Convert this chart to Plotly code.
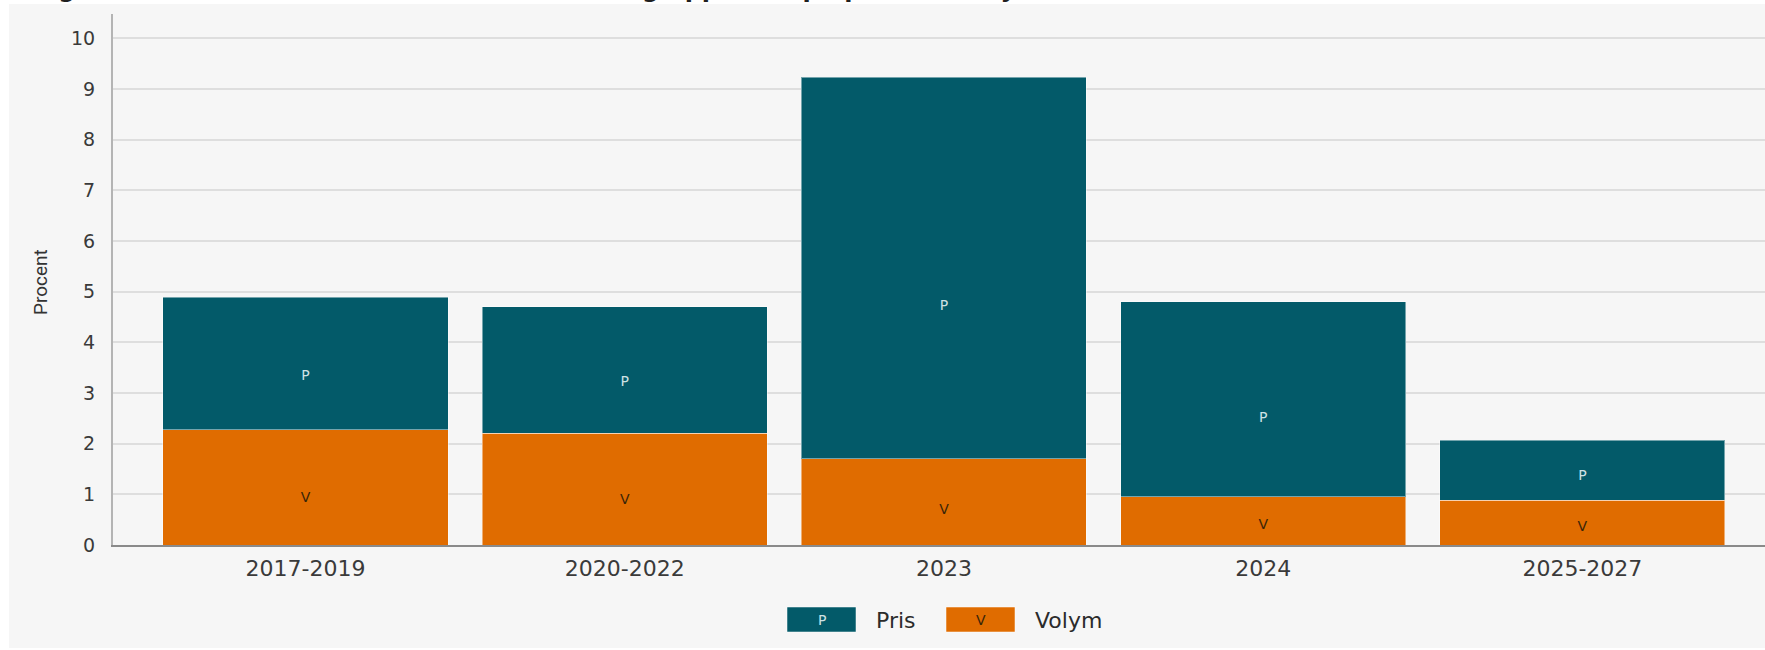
import plotly.graph_objects as go

# ---- data ----
categories = ["2017-2019", "2020-2022", "2023", "2024", "2025-2027"]
volym = [2.27, 2.21, 1.70, 0.95, 0.88]
pris = [2.62, 2.49, 7.53, 3.85, 1.19]
series_names = ["Pris", "Volym"]
series_short = ["P", "V"]
y_ticks = list(range(0, 11))

# ---- style ----
W, H = 1765, 650
L, R, T, B = 113, 0, 14, 105
TEAL = "#035a69"
ORANGE = "#e06c00"
BG = "#f6f6f6"
FONT = "DejaVu Sans"

plot_w = W - L - R
plot_h = H - T - B


def px_x(px):
    return (px - L) / plot_w


def px_y(py):
    return (H - B - py) / plot_h


fig = go.Figure()

fig.add_trace(go.Bar(
    x=categories, y=volym, name=series_names[1],
    marker=dict(color=ORANGE, line=dict(color="rgba(255,255,255,0.45)", width=1)),
    showlegend=False, hoverinfo="x+y",
))
fig.add_trace(go.Bar(
    x=categories, y=pris, name=series_names[0],
    marker=dict(color=TEAL, line=dict(color="rgba(255,255,255,0.45)", width=1)),
    showlegend=False, hoverinfo="x+y",
))

# segment labels placed 40 % up each segment
v_label_y = [0.4 * v for v in volym]
p_label_y = [v + 0.4 * p for v, p in zip(volym, pris)]
fig.add_trace(go.Scatter(
    x=categories, y=v_label_y, mode="text", text=[series_short[1]] * len(categories),
    textfont=dict(family=FONT, size=14, color="#3a2508"),
    showlegend=False, hoverinfo="skip", cliponaxis=False,
))
fig.add_trace(go.Scatter(
    x=categories, y=p_label_y, mode="text", text=[series_short[0]] * len(categories),
    textfont=dict(family=FONT, size=14, color="#cfe2e5"),
    showlegend=False, hoverinfo="skip", cliponaxis=False,
))

shapes = [
    # white page edges around the grey panel
    dict(type="rect", xref="paper", yref="paper", x0=px_x(0), x1=px_x(W), y0=px_y(0), y1=px_y(4),
         fillcolor="white", line=dict(width=0), layer="above"),
    dict(type="rect", xref="paper", yref="paper", x0=px_x(0), x1=px_x(9), y0=px_y(0), y1=px_y(H),
         fillcolor="white", line=dict(width=0), layer="above"),
    dict(type="rect", xref="paper", yref="paper", x0=px_x(0), x1=px_x(W), y0=px_y(648), y1=px_y(H),
         fillcolor="white", line=dict(width=0), layer="above"),
    # custom legend boxes
    dict(type="rect", xref="paper", yref="paper", x0=px_x(787), x1=px_x(856), y0=px_y(632), y1=px_y(607),
         fillcolor=TEAL, line=dict(color="rgba(255,255,255,0.5)", width=1)),
    dict(type="rect", xref="paper", yref="paper", x0=px_x(946), x1=px_x(1015), y0=px_y(632), y1=px_y(607),
         fillcolor=ORANGE, line=dict(color="rgba(255,255,255,0.5)", width=1)),
]

annotations = [
    dict(text="Procent", textangle=-90, xref="paper", yref="paper", x=px_x(41), y=px_y(282),
         xanchor="center", yanchor="middle", showarrow=False,
         font=dict(family="Liberation Sans Narrow, Roboto, sans-serif", size=19, color="#333")),
    dict(text="P", xref="paper", yref="paper", x=px_x(821.5), y=px_y(619.5), showarrow=False,
         xanchor="center", yanchor="middle", font=dict(family=FONT, size=14, color="#cfe2e5")),
    dict(text="V", xref="paper", yref="paper", x=px_x(980.5), y=px_y(619.5), showarrow=False,
         xanchor="center", yanchor="middle", font=dict(family=FONT, size=14, color="#3a2508")),
    dict(text=series_names[0], xref="paper", yref="paper", x=px_x(874), y=px_y(620),
         xanchor="left", yanchor="middle",
         showarrow=False, font=dict(family=FONT, size=22, color="#2b2b2b")),
    dict(text=series_names[1], xref="paper", yref="paper", x=px_x(1033), y=px_y(620),
         xanchor="left", yanchor="middle",
         showarrow=False, font=dict(family=FONT, size=22, color="#2b2b2b")),
    dict(text="<b>Diagram 20. Hushållens konsumtionsutveckling uppdelad på pris och volym</b>",
         xref="paper", yref="paper", x=px_x(12), y=px_y(5), xanchor="left", yanchor="bottom",
         showarrow=False, font=dict(family=FONT, size=24, color="#1f1f1f")),
]

fig.update_layout(
    width=W, height=H,
    margin=dict(l=L, r=R, t=T, b=B, autoexpand=False),
    paper_bgcolor=BG, plot_bgcolor=BG,
    barmode="stack", bargap=0.107,
    showlegend=False,
    shapes=shapes, annotations=annotations,
    font=dict(family=FONT, color="#333"),
    xaxis=dict(
        type="category", range=[-0.603, 4.572],
        showline=True, linecolor="#8a8a8a", linewidth=2,
        showgrid=False, ticks="", tickfont=dict(family=FONT, size=22, color="#3a3a3a"),
        ticklabelstandoff=3,
    ),
    yaxis=dict(
        range=[0, (H - B - T) / 50.67], tickvals=y_ticks,
        showline=True, linecolor="#b4b4b4", linewidth=2,
        showgrid=True, gridcolor="#dedede", gridwidth=1.5,
        zeroline=False, ticks="", tickfont=dict(family=FONT, size=19, color="#3a3a3a"),
        ticklabelstandoff=12,
    ),
)

fig.write_html(
    "out.html",
    config={"displayModeBar": False},
    post_script="document.body.style.margin='0';document.body.style.overflow='hidden';",
)
